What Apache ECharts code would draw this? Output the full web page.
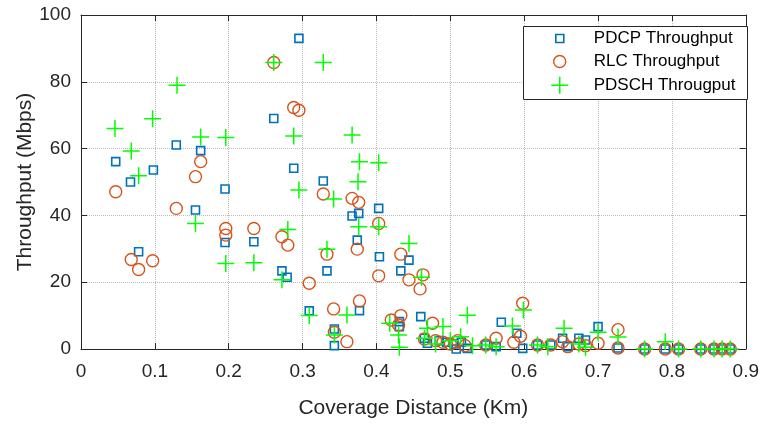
<!DOCTYPE html>
<html>
<head>
<meta charset="utf-8">
<script src="https://cdn.jsdelivr.net/npm/echarts@6/dist/echarts.min.js"></script>
<style>
html,body{margin:0;padding:0;background:#fff;}
#chart{width:762px;height:425px;}
</style>
</head>
<body>
<div id="chart"></div>
<script>
// ---- data ----
const xTicks = [0, 0.1, 0.2, 0.3, 0.4, 0.5, 0.6, 0.7, 0.8, 0.9];
const yTicks = [0, 20, 40, 60, 80, 100];
const seriesNames = ['PDCP Throughput', 'RLC Throughput', 'PDSCH Througput'];

const pdcpX = [0.047,0.067,0.078,0.098,0.129,0.155,0.162,0.195,0.195,0.234,0.261,0.272,0.279,0.288,0.295,0.309,0.328,0.333,0.343,0.343,0.367,0.374,0.376,0.377,0.403,0.404,0.431,0.431,0.433,0.444,0.460,0.465,0.469,0.485,0.495,0.505,0.508,0.515,0.523,0.548,0.562,0.569,0.590,0.598,0.618,0.636,0.652,0.659,0.674,0.683,0.700,0.727,0.763,0.791,0.809,0.839,0.857,0.868,0.879];
const pdcpY = [56.1,50.0,29.1,53.6,61.1,41.6,59.4,47.9,31.9,32.1,69.0,23.4,21.5,54.1,93.0,11.4,50.3,23.4,6.0,1.0,39.8,32.6,40.6,11.5,42.1,27.6,8.2,6.7,23.4,26.6,9.7,3.2,1.7,2.5,2.0,1.5,0.0,2.0,0.2,1.2,0.7,8.0,4.7,0.2,1.2,1.2,3.2,0.7,3.2,2.7,6.7,0.3,0,0,0,0,0,0,0];

const rlcX = [0.047,0.068,0.078,0.097,0.129,0.155,0.162,0.196,0.196,0.234,0.261,0.272,0.280,0.288,0.295,0.309,0.328,0.333,0.342,0.343,0.360,0.367,0.374,0.376,0.377,0.403,0.403,0.420,0.430,0.433,0.433,0.444,0.459,0.463,0.465,0.476,0.480,0.490,0.500,0.510,0.520,0.548,0.562,0.586,0.595,0.598,0.618,0.636,0.652,0.659,0.674,0.683,0.700,0.727,0.727,0.763,0.791,0.809,0.839,0.857,0.868,0.879];
const rlcY = [47.1,26.8,23.8,26.4,42.1,51.6,56.1,36.1,34.1,36.1,85.8,33.6,31.1,72.3,71.5,19.7,46.4,28.4,12.0,5.0,2.2,45.1,29.9,43.9,14.4,37.6,21.9,8.7,7.2,10.0,28.4,20.7,18.0,22.2,3.0,7.7,2.5,2.0,1.5,2.5,1.0,1.2,3.2,2.0,3.8,13.7,1.2,1.2,2.2,0.7,1.5,1.0,1.7,5.8,0.3,0,0,0,0,0,0,0];

const pdschX = [0.046,0.068,0.078,0.097,0.130,0.155,0.162,0.196,0.196,0.234,0.261,0.272,0.280,0.288,0.295,0.309,0.328,0.333,0.342,0.343,0.360,0.367,0.375,0.376,0.377,0.403,0.403,0.418,0.430,0.431,0.444,0.461,0.469,0.490,0.465,0.480,0.500,0.514,0.523,0.530,0.548,0.562,0.584,0.599,0.618,0.632,0.654,0.674,0.683,0.700,0.727,0.763,0.791,0.809,0.839,0.857,0.868,0.879];
const pdschY = [66.0,59.3,51.9,68.9,79.0,37.6,63.5,63.3,25.6,25.8,85.8,20.7,35.8,63.8,47.6,10.0,85.8,29.9,44.9,4.2,10.2,64.1,50.1,36.6,56.1,36.6,55.8,7.7,4.2,0.5,31.6,21.5,6.2,6.7,3.2,1.5,2.5,3.7,10.1,1.0,1.2,0.7,6.9,11.7,1.2,0.7,6.2,1.5,0.5,5.0,3.6,0,2.2,0,0,0,0,0];

function pairs(xs, ys){ return xs.map((x,i)=>[x, ys[i]]); }

const FONT = '"Liberation Sans", Arial, Helvetica, sans-serif';
const TXT = '#262626';
const AX = '#262626';
const xMin = xTicks[0], xMax = xTicks[xTicks.length-1], xInt = xTicks[1]-xTicks[0];
const yMin = yTicks[0], yMax = yTicks[yTicks.length-1], yInt = yTicks[1]-yTicks[0];

const chart = echarts.init(document.getElementById('chart'), null, {renderer:'canvas'});

const crossPath = 'path://M0,8L16,8M8,0L8,16';
const symbols = ['rect','circle',crossPath];
const sizes = [8,12,17];
const colors = ['#0072BD','#D95319','#00FF00'];
const widths = [1.6,1.4,1.5];
const legendCY = [40,63,86];

function legendFor(i){
  const s = sizes[i];
  return {
    data:[seriesNames[i]],
    orient:'vertical',
    left: 559 - s/2,
    top: legendCY[i]-10,
    padding:0,
    itemWidth:s, itemHeight:s,
    itemStyle:{color:'rgba(0,0,0,0)', borderColor:colors[i], borderWidth:widths[i]},
    formatter: n => '{t|' + n + '}',
    textStyle:{ rich:{ t:{ fontFamily:FONT, fontSize:17, color:'#000', lineHeight:20, padding:[0,0,0, 593-(559+s/2)-5] } } },
    selectedMode:false
  };
}

function axisCommon(){
  return {
    axisLine:{show:true, onZero:false, lineStyle:{color:AX, width:1}},
    axisTick:{show:true, inside:true, length:6, lineStyle:{color:AX, width:1}},
  };
}

const option = {
  backgroundColor:'#fff',
  animation:false,
  grid:{left:81, right:15, top:15, bottom:76, containLabel:false},
  graphic:[{
    type:'rect', z:3, left:523, top:26,
    shape:{width:224, height:73},
    style:{fill:'#fff', stroke:'#262626', lineWidth:1}
  }],
  legend:[legendFor(0), legendFor(1), legendFor(2)],
  xAxis:[
    Object.assign({
      type:'value', min:xMin, max:xMax, interval:xInt, position:'bottom',
      name:'Coverage Distance (Km)', nameLocation:'middle', nameGap:49, nameMoveOverlap:false,
      nameTextStyle:{fontFamily:FONT, fontSize:21, color:TXT},
      axisLabel:{fontFamily:FONT, fontSize:19, color:TXT, margin:13},
      splitLine:{show:true, lineStyle:{color:'#bdbdbd', type:'dotted', width:1}}
    }, axisCommon()),
    Object.assign({
      type:'value', min:xMin, max:xMax, interval:xInt, position:'top',
      axisLabel:{show:false}, splitLine:{show:false}
    }, axisCommon())
  ],
  yAxis:[
    Object.assign({
      type:'value', min:yMin, max:yMax, interval:yInt, position:'left',
      name:'Throughput (Mbps)', nameLocation:'middle', nameGap:45, nameMoveOverlap:false,
      nameTextStyle:{fontFamily:FONT, fontSize:21, color:TXT},
      axisLabel:{fontFamily:FONT, fontSize:19, color:TXT, margin:10},
      splitLine:{show:true, lineStyle:{color:'#bdbdbd', type:'dotted', width:1}}
    }, axisCommon()),
    Object.assign({
      type:'value', min:yMin, max:yMax, interval:yInt, position:'right',
      axisLabel:{show:false}, splitLine:{show:false}
    }, axisCommon())
  ],
  series:[
    {name:seriesNames[0], type:'scatter', data:pairs(pdcpX,pdcpY), symbol:symbols[0], symbolSize:sizes[0],
     itemStyle:{color:'rgba(0,0,0,0)', borderColor:colors[0], borderWidth:widths[0], opacity:1}, z:2},
    {name:seriesNames[1], type:'scatter', data:pairs(rlcX,rlcY), symbol:symbols[1], symbolSize:sizes[1],
     itemStyle:{color:'rgba(0,0,0,0)', borderColor:colors[1], borderWidth:widths[1], opacity:1}, z:2},
    {name:seriesNames[2], type:'scatter', data:pairs(pdschX,pdschY), symbol:symbols[2], symbolSize:sizes[2],
     itemStyle:{color:'rgba(0,0,0,0)', borderColor:colors[2], borderWidth:widths[2], opacity:1}, z:2}
  ]
};
chart.setOption(option);
</script>
</body>
</html>
